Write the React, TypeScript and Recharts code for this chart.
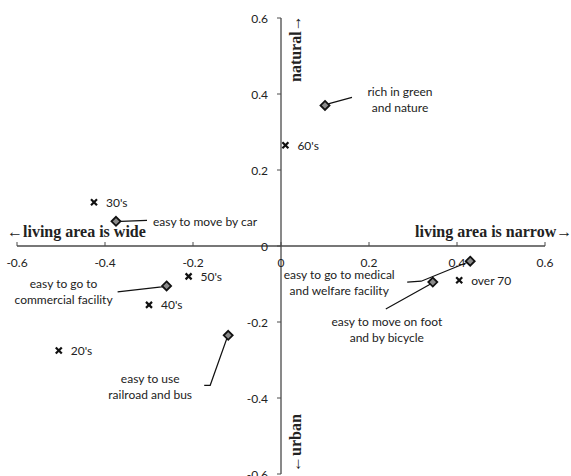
import React from 'react';
import { ScatterChart, Scatter, XAxis, YAxis, ReferenceLine, ReferenceDot } from 'recharts';

// attribute items (diamonds)
const attributeNames = ['green', 'car', 'commercial', 'railroad', 'medical', 'foot'];
const attributeX = [0.1, -0.375, -0.26, -0.12, 0.43, 0.345];
const attributeY = [0.37, 0.065, -0.105, -0.235, -0.04, -0.095];
const attributeLabels = [
  ['rich in green', 'and nature'],
  ['easy to move by car'],
  ['easy to go to', 'commercial facility'],
  ['easy to use', 'railroad and bus'],
  ['easy to go to medical', 'and welfare facility'],
  ['easy to move on foot', 'and by bicycle'],
];

// age groups (crosses)
const ageNames = ["20's", "30's", "40's", "50's", "60's", 'over 70'];
const ageX = [-0.505, -0.425, -0.3, -0.21, 0.01, 0.405];
const ageY = [-0.275, 0.115, -0.155, -0.08, 0.265, -0.09];

const xTicks = [-0.6, -0.4, -0.2, 0, 0.2, 0.4, 0.6];
const yTicks = [-0.6, -0.4, -0.2, 0, 0.2, 0.4, 0.6];

// label placement, pixel offsets from the marker
const labelLayout = [
  { dx: 75, dy: -14, anchor: 'middle', leader: [[5, -2], [27, -8]] },
  { dx: 37, dy: 0, anchor: 'start', leader: [[5, 0], [31, -1]] },
  { dx: -103, dy: -2, anchor: 'middle', leader: [[-5, 1], [-49, 6]] },
  { dx: -78, dy: 43, anchor: 'middle', leader: [[-2, 5], [-18, 50], [-24, 50]] },
  { dx: -131, dy: 13, anchor: 'middle', leader: [[-5, 2], [-49, 20], [-63, 21]] },
  { dx: -46, dy: 39, anchor: 'middle', leader: [[-4, 3], [-47, 27]] },
];

const attributeData = attributeNames.map((name, i) => ({ name, x: attributeX[i], y: attributeY[i], idx: i }));
const ageData = ageNames.map((name, i) => ({ name, x: ageX[i], y: ageY[i] }));

const labelFont = 'Lato, "Open Sans", sans-serif';
const titleFont = '"Liberation Serif", "Times New Roman", serif';
const axisColor = '#4a4a4a';
const textColor = '#222';

const DiamondShape = (props: any) => {
  const { cx, cy, payload } = props;
  if (cx == null || cy == null) return null;
  const i = payload.idx;
  const lay = labelLayout[i];
  const lines = attributeLabels[i];
  const pts = [[0, 0], ...lay.leader].map((p) => `${cx + p[0]},${cy + p[1]}`).join(' ');
  const s = 4.5;
  return (
    <g>
      <polyline points={pts} fill="none" stroke="#111" strokeWidth={1.2} />
      <polygon
        points={`${cx},${cy - s} ${cx + s},${cy} ${cx},${cy + s} ${cx - s},${cy}`}
        fill="#8a8a8a"
        stroke="#111"
        strokeWidth={1.8}
      />
      {lines.map((t, k) => (
        <text
          key={k}
          x={cx + lay.dx}
          y={cy + lay.dy + k * 16}
          textAnchor={lay.anchor as any}
          dominantBaseline="central"
          fontFamily={labelFont}
          fontSize={12}
          fill={textColor}
        >
          {t}
        </text>
      ))}
    </g>
  );
};

const CrossShape = (props: any) => {
  const { cx, cy, payload } = props;
  if (cx == null || cy == null) return null;
  const s = 3;
  return (
    <g>
      <line x1={cx - s} y1={cy - s} x2={cx + s} y2={cy + s} stroke="#111" strokeWidth={2.2} />
      <line x1={cx - s} y1={cy + s} x2={cx + s} y2={cy - s} stroke="#111" strokeWidth={2.2} />
      <text x={cx + 12} y={cy} dominantBaseline="central" fontFamily={labelFont} fontSize={12} fill={textColor}>
        {payload.name}
      </text>
    </g>
  );
};

const fmt = (v: number) => String(v);

const XTick = (label: string) => (props: any) => {
  const { cx, cy } = props;
  return (
    <g>
      <line x1={cx} y1={cy} x2={cx} y2={cy - 4} stroke={axisColor} strokeWidth={1} />
      <text x={cx} y={cy + 16} textAnchor="middle" dominantBaseline="central" fontFamily={labelFont} fontSize={12} fill={textColor}>
        {label}
      </text>
    </g>
  );
};

const YTick = (label: string) => (props: any) => {
  const { cx, cy } = props;
  return (
    <g>
      <line x1={cx} y1={cy} x2={cx - 4} y2={cy} stroke={axisColor} strokeWidth={1} />
      <text x={cx - 13} y={cy} textAnchor="end" dominantBaseline="central" fontFamily={labelFont} fontSize={12} fill={textColor}>
        {label}
      </text>
    </g>
  );
};

const Title = (text: string, dx: number, dy: number, rotate = false) => (props: any) => {
  const { cx, cy } = props;
  const x = cx + dx;
  const y = cy + dy;
  return (
    <text
      x={x}
      y={y}
      transform={rotate ? `rotate(-90 ${x} ${y})` : undefined}
      fontFamily={titleFont}
      fontWeight="bold"
      fontSize={16}
      fill={textColor}
    >
      {text}
    </text>
  );
};

export default function App() {
  return (
    <div style={{ position: 'absolute', left: 0, top: 0, background: '#fff' }}>
      <ScatterChart width={571} height={476} margin={{ top: 18, right: 26, bottom: 2, left: 17 }}>
        <XAxis type="number" dataKey="x" domain={[-0.6, 0.6]} hide />
        <YAxis type="number" dataKey="y" domain={[-0.6, 0.6]} hide />
        <ReferenceLine x={0} stroke={axisColor} strokeWidth={1.3} />
        <ReferenceLine y={0} stroke={axisColor} strokeWidth={1.3} />
        {xTicks.map((v) => (
          <ReferenceDot key={'x' + v} x={v} y={0} r={0} shape={XTick(fmt(v))} />
        ))}
        {yTicks.map((v) => (
          <ReferenceDot key={'y' + v} x={0} y={v} r={0} shape={YTick(fmt(v))} />
        ))}
        <ReferenceDot x={-0.6} y={0} r={0} shape={Title('\u2190living area is wide', -10, -9.5)} />
        <ReferenceDot x={0.6} y={0} r={0} shape={Title('living area is narrow\u2192', -130, -9.5)} />
        <ReferenceDot x={0} y={0.6} r={0} shape={Title('natural\u2192', 20, 64, true)} />
        <ReferenceDot x={0} y={-0.6} r={0} shape={Title('\u2190urban', 20, -2, true)} />
        <Scatter data={attributeData} shape={DiamondShape} isAnimationActive={false} />
        <Scatter data={ageData} shape={CrossShape} isAnimationActive={false} />
      </ScatterChart>
    </div>
  );
}
